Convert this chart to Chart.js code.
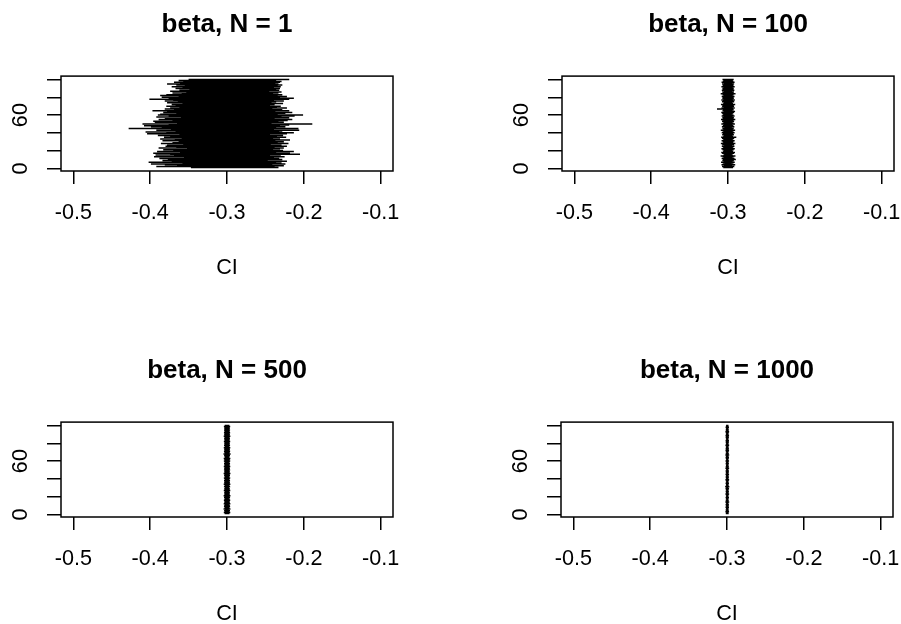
<!DOCTYPE html>
<html lang="en">
<head>
<meta charset="UTF-8">
<title>beta CI by N</title>
<script src="https://cdn.jsdelivr.net/npm/chart.js"></script>
<style>
  html, body { margin: 0; padding: 0; background: #fff; overflow: hidden; }
  body { width: 901px; height: 624px; position: relative; }
  .panel { position: absolute; width: 454px; height: 290px; }
</style>
</head>
<body>
<div class="panel" style="left:0;top:0"><canvas id="c1" width="454" height="290"></canvas></div>
<div class="panel" style="left:501px;top:0"><canvas id="c2" width="454" height="290"></canvas></div>
<div class="panel" style="left:0;top:346px"><canvas id="c3" width="454" height="290"></canvas></div>
<div class="panel" style="left:500px;top:346px"><canvas id="c4" width="454" height="290"></canvas></div>

<script>
const sampleSizes = [1, 100, 500, 1000];
const xTicks = [-0.5, -0.4, -0.3, -0.2, -0.1];
const xTickLabels = ['-0.5', '-0.4', '-0.3', '-0.2', '-0.1'];
const yTicks = [0, 20, 40, 60, 80, 100];
const yTickLabels = ['0', '', '', '60', '', ''];
const trueBeta = -0.3;

// N = 1
const lower1 = [
  -0.347,-0.392,-0.365,-0.381,-0.399,-0.358,-0.402,-0.372,-0.384,-0.377,
  -0.388,-0.356,-0.395,-0.369,-0.393,-0.374,-0.396,-0.361,-0.391,-0.370,
  -0.383,-0.352,-0.389,-0.366,-0.380,-0.378,-0.357,-0.386,-0.371,-0.363,
  -0.384,-0.368,-0.387,-0.359,-0.382,-0.374,-0.390,-0.362,-0.404,-0.379,
  -0.406,-0.367,-0.392,-0.373,-0.428,-0.385,-0.399,-0.408,-0.376,-0.410,
  -0.365,-0.394,-0.396,-0.371,-0.389,-0.381,-0.360,-0.392,-0.376,-0.390,
  -0.387,-0.366,-0.383,-0.378,-0.397,-0.369,-0.381,-0.374,-0.362,-0.379,
  -0.367,-0.372,-0.358,-0.378,-0.364,-0.381,-0.370,-0.401,-0.376,-0.385,
  -0.363,-0.387,-0.379,-0.359,-0.371,-0.353,-0.374,-0.362,-0.349,-0.367,
  -0.358,-0.372,-0.355,-0.366,-0.378,-0.361,-0.369,-0.357,-0.363,-0.350
];
const upper1 = [
  -0.233,-0.238,-0.226,-0.241,-0.224,-0.229,-0.236,-0.222,-0.247,-0.228,
  -0.232,-0.239,-0.225,-0.244,-0.230,-0.205,-0.218,-0.236,-0.213,-0.227,
  -0.240,-0.231,-0.226,-0.238,-0.222,-0.229,-0.243,-0.220,-0.234,-0.226,
  -0.237,-0.218,-0.231,-0.240,-0.223,-0.235,-0.227,-0.244,-0.222,-0.213,
  -0.232,-0.228,-0.206,-0.239,-0.207,-0.236,-0.224,-0.231,-0.219,-0.189,
  -0.242,-0.226,-0.233,-0.221,-0.215,-0.238,-0.219,-0.229,-0.212,-0.201,
  -0.234,-0.224,-0.215,-0.237,-0.219,-0.228,-0.241,-0.222,-0.235,-0.230,
  -0.244,-0.238,-0.227,-0.242,-0.236,-0.226,-0.239,-0.219,-0.213,-0.231,
  -0.222,-0.234,-0.228,-0.240,-0.233,-0.229,-0.245,-0.232,-0.236,-0.231,
  -0.239,-0.230,-0.234,-0.228,-0.233,-0.237,-0.231,-0.229,-0.236,-0.219
];

// N = 100
const lower100 = [
  -0.3062,-0.3078,-0.3051,-0.3085,-0.3069,-0.3047,-0.3091,-0.3058,-0.3074,-0.3066,
  -0.3083,-0.3055,-0.3071,-0.3096,-0.3060,-0.3049,-0.3077,-0.3088,-0.3064,-0.3053,
  -0.3072,-0.3086,-0.3059,-0.3068,-0.3081,-0.3050,-0.3075,-0.3093,-0.3061,-0.3070,
  -0.3084,-0.3056,-0.3067,-0.3079,-0.3089,-0.3063,-0.3052,-0.3076,-0.3065,-0.3082,
  -0.3058,-0.3071,-0.3094,-0.3060,-0.3073,-0.3048,-0.3080,-0.3067,-0.3057,-0.3087,
  -0.3069,-0.3054,-0.3078,-0.3062,-0.3091,-0.3066,-0.3074,-0.3059,-0.3083,-0.3070,
  -0.3061,-0.3076,-0.3088,-0.3055,-0.3072,-0.3064,-0.3143,-0.3085,-0.3058,-0.3077,
  -0.3069,-0.3092,-0.3063,-0.3051,-0.3079,-0.3066,-0.3087,-0.3060,-0.3074,-0.3068,
  -0.3082,-0.3057,-0.3071,-0.3095,-0.3064,-0.3076,-0.3053,-0.3081,-0.3067,-0.3073,
  -0.3059,-0.3086,-0.3070,-0.3062,-0.3078,-0.3055,-0.3084,-0.3068,-0.3061,-0.3072
];
const upper100 = [
  -0.2935,-0.2918,-0.2947,-0.2906,-0.2929,-0.2953,-0.2912,-0.2941,-0.2924,-0.2898,
  -0.2915,-0.2944,-0.2927,-0.2903,-0.2938,-0.2951,-0.2921,-0.2909,-0.2933,-0.2945,
  -0.2926,-0.2911,-0.2939,-0.2930,-0.2916,-0.2948,-0.2922,-0.2904,-0.2936,-0.2928,
  -0.2913,-0.2942,-0.2931,-0.2919,-0.2892,-0.2934,-0.2946,-0.2923,-0.2932,-0.2914,
  -0.2940,-0.2927,-0.2907,-0.2937,-0.2925,-0.2950,-0.2917,-0.2930,-0.2943,-0.2910,
  -0.2928,-0.2944,-0.2920,-0.2936,-0.2905,-0.2932,-0.2923,-0.2940,-0.2914,-0.2929,
  -0.2951,-0.2937,-0.2922,-0.2908,-0.2943,-0.2926,-0.2934,-0.2912,-0.2939,-0.2921,
  -0.2929,-0.2906,-0.2935,-0.2947,-0.2919,-0.2931,-0.2911,-0.2938,-0.2924,-0.2930,
  -0.2915,-0.2941,-0.2927,-0.2902,-0.2933,-0.2922,-0.2945,-0.2917,-0.2931,-0.2925,
  -0.2939,-0.2913,-0.2928,-0.2936,-0.2920,-0.2942,-0.2914,-0.2930,-0.2937,-0.2926
];

// N = 500
const lower500 = [
  -0.3031,-0.3042,-0.3027,-0.3038,-0.3024,-0.3045,-0.3033,-0.3029,-0.3040,-0.3036,
  -0.3026,-0.3043,-0.3032,-0.3037,-0.3028,-0.3041,-0.3034,-0.3025,-0.3039,-0.3030,
  -0.3044,-0.3035,-0.3027,-0.3038,-0.3033,-0.3029,-0.3042,-0.3031,-0.3036,-0.3026,
  -0.3040,-0.3034,-0.3028,-0.3043,-0.3032,-0.3037,-0.3025,-0.3039,-0.3030,-0.3035,
  -0.3041,-0.3027,-0.3033,-0.3038,-0.3029,-0.3044,-0.3031,-0.3036,-0.3026,-0.3040,
  -0.3032,-0.3037,-0.3028,-0.3042,-0.3034,-0.3030,-0.3039,-0.3025,-0.3035,-0.3041,
  -0.3029,-0.3036,-0.3043,-0.3031,-0.3027,-0.3038,-0.3033,-0.3046,-0.3030,-0.3035,
  -0.3040,-0.3028,-0.3037,-0.3032,-0.3042,-0.3026,-0.3034,-0.3039,-0.3031,-0.3036,
  -0.3029,-0.3041,-0.3033,-0.3027,-0.3038,-0.3035,-0.3030,-0.3043,-0.3032,-0.3037,
  -0.3028,-0.3040,-0.3034,-0.3031,-0.3039,-0.3026,-0.3036,-0.3033,-0.3041,-0.3030
];
const upper500 = [
  -0.2968,-0.2957,-0.2974,-0.2961,-0.2977,-0.2955,-0.2966,-0.2971,-0.2959,-0.2963,
  -0.2975,-0.2956,-0.2967,-0.2962,-0.2972,-0.2958,-0.2965,-0.2976,-0.2960,-0.2969,
  -0.2955,-0.2964,-0.2973,-0.2961,-0.2966,-0.2970,-0.2957,-0.2968,-0.2963,-0.2974,
  -0.2959,-0.2965,-0.2971,-0.2956,-0.2967,-0.2962,-0.2975,-0.2960,-0.2969,-0.2964,
  -0.2958,-0.2972,-0.2966,-0.2961,-0.2970,-0.2955,-0.2968,-0.2963,-0.2974,-0.2959,
  -0.2967,-0.2962,-0.2971,-0.2957,-0.2965,-0.2969,-0.2960,-0.2976,-0.2964,-0.2958,
  -0.2970,-0.2963,-0.2956,-0.2968,-0.2973,-0.2961,-0.2966,-0.2953,-0.2969,-0.2964,
  -0.2959,-0.2971,-0.2962,-0.2967,-0.2957,-0.2974,-0.2965,-0.2960,-0.2968,-0.2963,
  -0.2970,-0.2958,-0.2966,-0.2972,-0.2961,-0.2964,-0.2969,-0.2956,-0.2967,-0.2962,
  -0.2971,-0.2959,-0.2965,-0.2968,-0.2960,-0.2973,-0.2963,-0.2966,-0.2958,-0.2969
];

// N = 1000
const lower1000 = [
  -0.3016,-0.3009,-0.3021,-0.3012,-0.3018,-0.3007,-0.3014,-0.3020,-0.3010,-0.3015,
  -0.3019,-0.3008,-0.3013,-0.3022,-0.3011,-0.3017,-0.3006,-0.3014,-0.3019,-0.3012,
  -0.3009,-0.3016,-0.3021,-0.3010,-0.3015,-0.3018,-0.3007,-0.3013,-0.3020,-0.3011,
  -0.3024,-0.3017,-0.3009,-0.3014,-0.3019,-0.3012,-0.3008,-0.3016,-0.3021,-0.3010,
  -0.3015,-0.3018,-0.3011,-0.3013,-0.3020,-0.3007,-0.3016,-0.3012,-0.3019,-0.3009,
  -0.3014,-0.3021,-0.3010,-0.3017,-0.3013,-0.3008,-0.3018,-0.3015,-0.3011,-0.3020,
  -0.3012,-0.3009,-0.3016,-0.3019,-0.3014,-0.3010,-0.3022,-0.3013,-0.3017,-0.3008,
  -0.3015,-0.3020,-0.3011,-0.3018,-0.3012,-0.3016,-0.3009,-0.3021,-0.3014,-0.3010,
  -0.3017,-0.3013,-0.3019,-0.3008,-0.3015,-0.3011,-0.3018,-0.3012,-0.3020,-0.3014,
  -0.3009,-0.3016,-0.3021,-0.3011,-0.3017,-0.3013,-0.3010,-0.3019,-0.3015,-0.3012
];
const upper1000 = [
  -0.2978,-0.2984,-0.2973,-0.2981,-0.2976,-0.2986,-0.2979,-0.2974,-0.2983,-0.2977,
  -0.2975,-0.2985,-0.2980,-0.2971,-0.2982,-0.2977,-0.2987,-0.2979,-0.2974,-0.2981,
  -0.2984,-0.2977,-0.2972,-0.2983,-0.2978,-0.2975,-0.2986,-0.2980,-0.2973,-0.2982,
  -0.2969,-0.2976,-0.2984,-0.2979,-0.2974,-0.2981,-0.2985,-0.2977,-0.2972,-0.2983,
  -0.2978,-0.2975,-0.2982,-0.2980,-0.2973,-0.2986,-0.2977,-0.2981,-0.2974,-0.2984,
  -0.2979,-0.2972,-0.2983,-0.2976,-0.2980,-0.2985,-0.2975,-0.2978,-0.2982,-0.2973,
  -0.2981,-0.2984,-0.2977,-0.2974,-0.2979,-0.2983,-0.2971,-0.2980,-0.2976,-0.2985,
  -0.2978,-0.2973,-0.2982,-0.2975,-0.2981,-0.2977,-0.2984,-0.2972,-0.2979,-0.2983,
  -0.2976,-0.2980,-0.2974,-0.2985,-0.2978,-0.2982,-0.2975,-0.2981,-0.2973,-0.2979,
  -0.2984,-0.2977,-0.2972,-0.2982,-0.2976,-0.2980,-0.2983,-0.2974,-0.2978,-0.2981
];

const lowers = [lower1, lower100, lower500, lower1000];
const uppers = [upper1, upper100, upper500, upper1000];

Chart.defaults.font.family = "'Liberation Sans', Arial, sans-serif";
Chart.defaults.color = '#000';

// plot frame like R's box()
const boxPlugin = {
  id: 'box',
  afterDraw(chart) {
    const { ctx, chartArea: a } = chart;
    ctx.save();
    ctx.strokeStyle = '#000';
    ctx.lineWidth = 1.5;
    ctx.strokeRect(a.left, a.top, a.right - a.left, a.bottom - a.top);
    ctx.restore();
  }
};

function segments(lo, hi) {
  const pts = [];
  for (let i = 0; i < lo.length; i++) {
    pts.push({ x: lo[i], y: i + 1 }, { x: hi[i], y: i + 1 }, { x: NaN, y: NaN });
  }
  return pts;
}

function makeChart(id, k) {
  const n = lowers[k].length;
  new Chart(document.getElementById(id), {
    type: 'scatter',
    data: {
      datasets: [{
        data: segments(lowers[k], uppers[k]),
        showLine: true,
        spanGaps: false,
        borderColor: '#000',
        borderWidth: 1.5,
        pointRadius: 0,
        order: 0
      }, {
        data: [{ x: trueBeta, y: 1 }, { x: trueBeta, y: n }],
        showLine: true,
        borderColor: '#cc0000',
        borderWidth: 1,
        pointRadius: 0,
        order: 1
      }]
    },
    options: {
      responsive: false,
      animation: false,
      events: [],
      devicePixelRatio: 1,
      layout: { padding: { left: 0, right: 61, top: 0, bottom: 0 } },
      plugins: {
        legend: { display: false },
        tooltip: { enabled: false },
        title: {
          display: true,
          fullSize: false, // centre over the plot region like R
          text: 'beta, N = ' + sampleSizes[k],
          font: { size: 26, weight: 'bold' },
          color: '#000',
          padding: { top: 9.5, bottom: 35.4 }
        }
      },
      scales: {
        x: {
          type: 'linear',
          min: -0.516,
          max: -0.084,
          afterBuildTicks: s => { s.ticks = xTicks.map(v => ({ value: v })); },
          afterFit: s => { s.height = 119; },
          ticks: {
            font: { size: 21.6 },
            color: '#000',
            padding: 16,
            autoSkip: false,
            maxRotation: 0,
            callback: (v, i) => xTickLabels[i]
          },
          grid: {
            drawOnChartArea: false,
            drawTicks: true,
            tickLength: 13,
            color: '#000',
            lineWidth: 1.5
          },
          border: { display: false },
          title: {
            display: true,
            text: 'CI',
            font: { size: 21.6 },
            color: '#000',
            padding: { top: 0, bottom: 9 }
          }
        },
        y: {
          type: 'linear',
          min: -2.96,
          max: 103.96,
          afterBuildTicks: s => { s.ticks = yTicks.map(v => ({ value: v })); },
          afterFit: s => { s.width = 61; },
          ticks: {
            font: { size: 21.6 },
            color: '#000',
            padding: 13.5,
            autoSkip: false,
            minRotation: 90,
            maxRotation: 90,
            crossAlign: 'center',
            callback: (v, i) => yTickLabels[i]
          },
          grid: {
            drawOnChartArea: false,
            drawTicks: true,
            tickLength: 14,
            color: '#000',
            lineWidth: 1.5
          },
          border: { display: false }
        }
      }
    },
    plugins: [boxPlugin]
  });
}

makeChart('c1', 0);
makeChart('c2', 1);
makeChart('c3', 2);
makeChart('c4', 3);
</script>
</body>
</html>
